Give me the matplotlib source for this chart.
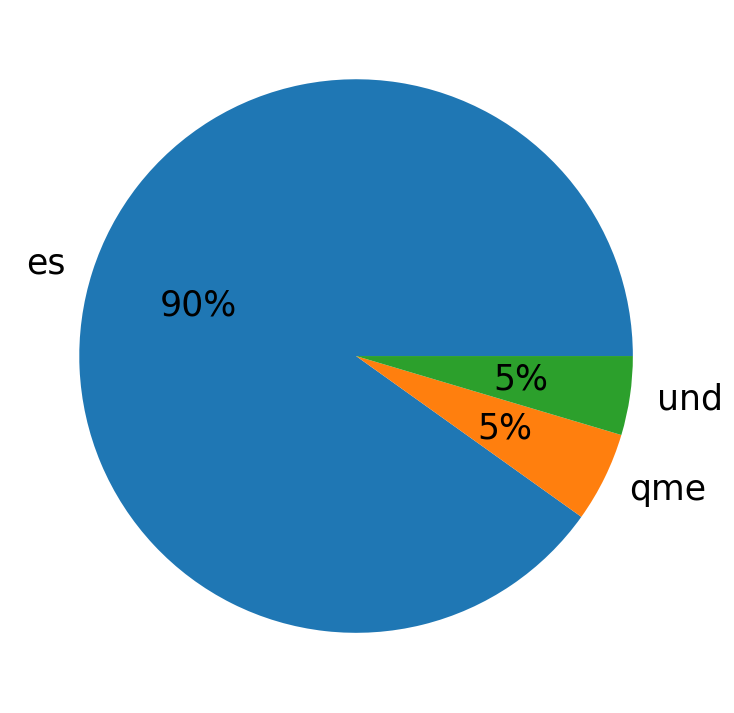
import matplotlib.pyplot as plt

labels = ['es', 'qme', 'und']
counts = [137, 8, 7]

fig = plt.figure(figsize=(7.34, 7.13), dpi=100)
# square axes so the pie fills the frame like the reference
ax = fig.add_axes([0.0136, 0.0154, 0.943, 0.9705])
ax.pie(counts, labels=labels, autopct='%1.0f%%', textprops={'fontsize': 25})

plt.savefig('out.png', dpi=100)
